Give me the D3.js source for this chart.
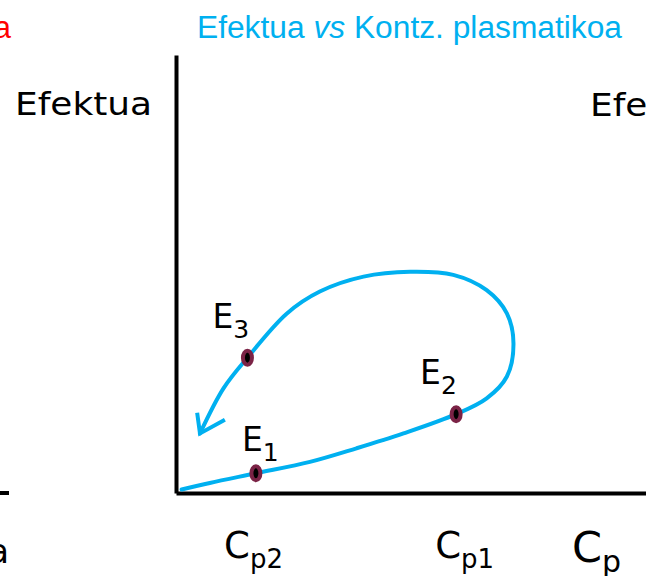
<!DOCTYPE html>
<html>
<head>
<meta charset="utf-8">
<script src="https://cdn.jsdelivr.net/npm/d3@7"></script>
<style>
  body { margin: 0; background: #fff; }
  svg { display: block; }
</style>
</head>
<body>
<script>
// loop of effect vs plasma concentration (x = concentration, y = effect, arbitrary 0..100)
var curveX = [1.2, 7.2, 17.0, 28.5, 38.4, 48.4, 59.6, 66.1, 70.4, 71.8, 70.4, 66.1, 59.0, 49.8, 39.9, 30.6, 23.6, 15.2, 10.1, 5.1];
var curveY = [0.8, 2.3, 4.5, 7.1, 10.2, 13.6, 18.0, 21.6, 26.6, 34.2, 41.0, 46.3, 49.8, 50.5, 49.4, 46.0, 41.0, 30.9, 23.9, 13.6];

// arrow head at the end of the loop
var arrowX = [4.5, 5.1, 10.4];
var arrowY = [18.3, 13.6, 16.7];

// marked points E1, E2, E3
var pointNames = ["1", "2", "3"];
var pointX = [17.0, 59.6, 15.2];
var pointY = [4.5, 18.0, 30.9];

// concentration tick labels on the x axis
var tickNames = ["p2", "p1"];
var tickX = [16.5, 61.4];

var width = 646, height = 576;
var blue = "#00b0f0", dotColor = "#7b2346";
var sans = "'DejaVu Sans', Verdana, sans-serif";
var arial = "'Liberation Sans', Arial, sans-serif";

var svg = d3.select("body").append("svg")
    .attr("width", width)
    .attr("height", height);

var x = d3.scaleLinear().domain([0, 100]).range([176, 646]);
var y = d3.scaleLinear().domain([0, 100]).range([493, 55]);

// ---- axes (no ticks, just the lines) ----
svg.append("g")
    .attr("transform", "translate(0," + y(0) + ")")
    .call(d3.axisBottom(x).tickValues([]).tickSizeOuter(0))
    .select(".domain")
        .attr("stroke", "#000")
        .attr("stroke-width", 4);

svg.append("g")
    .attr("transform", "translate(" + x(0) + ",0)")
    .call(d3.axisLeft(y).tickValues([]).tickSizeOuter(0))
    .select(".domain")
        .attr("stroke", "#000")
        .attr("stroke-width", 4);

// piece of the neighbouring panel's x axis
svg.append("line")
    .attr("x1", 0).attr("x2", 9)
    .attr("y1", y(0)).attr("y2", y(0))
    .attr("stroke", "#000")
    .attr("stroke-width", 4);

// ---- curve ----
var pts = curveX.map(function(d, i) { return [d, curveY[i]]; });
var line = d3.line()
    .x(function(d) { return x(d[0]); })
    .y(function(d) { return y(d[1]); })
    .curve(d3.curveCatmullRom.alpha(0.5));

svg.append("path")
    .attr("d", line(pts))
    .attr("fill", "none")
    .attr("stroke", blue)
    .attr("stroke-width", 4)
    .attr("stroke-linecap", "round");

var arrowPts = arrowX.map(function(d, i) { return [d, arrowY[i]]; });
svg.append("path")
    .attr("d", d3.line().x(function(d) { return x(d[0]); }).y(function(d) { return y(d[1]); })(arrowPts))
    .attr("fill", "none")
    .attr("stroke", blue)
    .attr("stroke-width", 4)
    .attr("stroke-linejoin", "miter");

// ---- points ----
svg.selectAll(".dot")
    .data(pointX)
    .enter().append("ellipse")
        .attr("class", "dot")
        .attr("cx", function(d) { return x(d); })
        .attr("cy", function(d, i) { return y(pointY[i]); })
        .attr("rx", 4.5)
        .attr("ry", 7)
        .attr("fill", "#000")
        .attr("stroke", dotColor)
        .attr("stroke-width", 4);

// point labels, offset from each dot
var labelDx = [-14, -36, -35];
var labelDy = [-22, -30, -30];
pointNames.forEach(function(n, i) {
    var t = svg.append("text")
        .attr("x", x(pointX[i]) + labelDx[i])
        .attr("y", y(pointY[i]) + labelDy[i])
        .style("font-family", sans)
        .style("font-size", "33px")
        .text("E");
    t.append("tspan")
        .attr("dy", 10)
        .style("font-size", "25px")
        .text(n);
});

// ---- x tick labels ----
tickNames.forEach(function(n, i) {
    var t = svg.append("text")
        .attr("x", x(tickX[i]))
        .attr("y", 558)
        .attr("text-anchor", "middle")
        .style("font-family", sans)
        .style("font-size", "37px")
        .text("C");
    t.append("tspan")
        .attr("dy", 10)
        .style("font-size", "26px")
        .text(n);
});

// x axis label (cut by the right edge)
var xl = svg.append("text")
    .attr("x", 572)
    .attr("y", 562)
    .style("font-family", sans)
    .style("font-size", "43px")
    .text("C");
xl.append("tspan")
    .attr("dy", 10)
    .style("font-size", "30px")
    .text("p");

// y axis label
svg.append("text")
    .attr("x", 15)
    .attr("y", 115)
    .attr("textLength", 137)
    .attr("lengthAdjust", "spacingAndGlyphs")
    .style("font-family", sans)
    .style("font-size", "32px")
    .text("Efektua");

// next panel's label, cut by the right edge
svg.append("text")
    .attr("x", 590)
    .attr("y", 116)
    .attr("textLength", 137)
    .attr("lengthAdjust", "spacingAndGlyphs")
    .style("font-family", sans)
    .style("font-size", "32px")
    .text("Efektua");

// title
var title = svg.append("text")
    .attr("x", 197)
    .attr("y", 38)
    .attr("fill", blue)
    .attr("textLength", 425)
    .attr("lengthAdjust", "spacingAndGlyphs")
    .style("font-family", arial)
    .style("font-size", "31px");
title.append("tspan").text("Efektua ");
title.append("tspan").style("font-style", "italic").text("vs");
title.append("tspan").text(" Kontz. plasmatikoa");

// end of the previous panel's title and x label
svg.append("text")
    .attr("x", 11)
    .attr("y", 38)
    .attr("text-anchor", "end")
    .attr("fill", "#ff0000")
    .style("font-family", arial)
    .style("font-size", "31px")
    .text("a");

svg.append("text")
    .attr("x", 9)
    .attr("y", 563)
    .attr("text-anchor", "end")
    .style("font-family", sans)
    .style("font-size", "34px")
    .text("a");
</script>
</body>
</html>
